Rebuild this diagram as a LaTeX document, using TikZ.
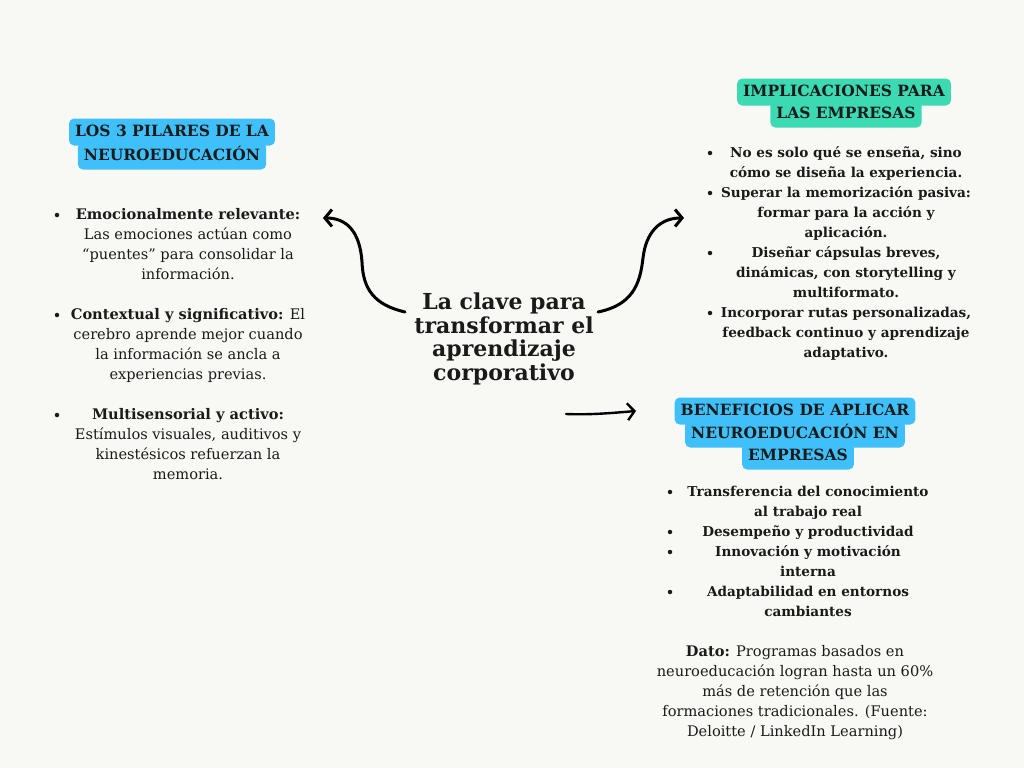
\documentclass[tikz,border=0pt]{standalone}
\usepackage{fontspec}
\setmainfont{DejaVu Serif}
\usetikzlibrary{arrows.meta}
\definecolor{paper}{HTML}{F8F8F4}
\definecolor{skyblue}{HTML}{40C0FA}
\definecolor{mint}{HTML}{3BDAB3}
\definecolor{ink}{HTML}{1A1A1A}
\tikzset{
  header/.style = {fill = #1, rounded corners = 5pt, inner xsep = 6pt,
    inner ysep = 6pt, text height = 11.5pt, text depth = 3.5pt,
    font = \fontsize{15.5}{20}\selectfont\bfseries},
  item/.style = {align = center, anchor = north, inner sep = 0pt,
    font = \fontsize{14.6}{20}\selectfont},
  bolditem/.style = {item, font = \fontsize{13.6}{20}\selectfont\bfseries},
  dot/.style = {circle, fill = ink, inner sep = 0pt, minimum size = 4.5pt},
  curly/.style = {line width = 3pt, line cap = round,
    -{Straight Barb[length = 7pt, width = 17pt]}}
}
\begin{document}
\begin{tikzpicture}[x = 1pt, y = -1pt, text = ink]
  \fill [paper] (0,0) rectangle (1024,768);

  % centre
  \node [align = center, inner sep = 0pt,
    font = \fontsize{22}{23.5}\selectfont\bfseries] (clave) at (504,339)
    {La clave para\\transformar el\\aprendizaje\\corporativo};

  % headers
  \node [header = skyblue] (pil1) at (172,132) {LOS 3 PILARES DE LA};
  \node [header = skyblue] (pil2) at (172,156) {NEUROEDUCACIÓN};
  \node [header = mint] (imp1) at (844,92) {IMPLICACIONES PARA};
  \node [header = mint] (imp2) at (846,114) {LAS EMPRESAS};
  \node [header = skyblue] (ben1) at (795,411) {BENEFICIOS DE APLICAR};
  \node [header = skyblue] (ben2) at (795,434) {NEUROEDUCACIÓN EN};
  \node [header = skyblue] (ben3) at (798,456) {EMPRESAS};

  % left list
  \foreach \y/\txt [count = \n] in {
      205/{\textbf{Emocionalmente relevante:}\\Las emociones actúan como\\“puentes” para consolidar la\\información.},
      305/{\textbf{Contextual y significativo:} El\\cerebro aprende mejor cuando\\la información se ancla a\\experiencias previas.},
      405/{\textbf{Multisensorial y activo:}\\Estímulos visuales, auditivos y\\kinestésicos refuerzan la\\memoria.}} {
    \node [dot] (pdot\n) at (57,\y+10) {};
    \node [item] (pil\n) at (188,\y) {\strut\txt};
  }

  % right top list
  \foreach \y/\txt [count = \n] in {
      143/{No es solo qué se enseña, sino\\cómo se diseña la experiencia.},
      183/{Superar la memorización pasiva:\\formar para la acción y\\aplicación.},
      243/{Diseñar cápsulas breves,\\dinámicas, con storytelling y\\multiformato.},
      303/{Incorporar rutas personalizadas,\\feedback continuo y aprendizaje\\adaptativo.}} {
    \node [dot] (idot\n) at (710,\y+10) {};
    \node [bolditem] (imp\n) at (846,\y) {\strut\txt};
  }

  % right bottom list
  \foreach \y/\txt [count = \n] in {
      482/{Transferencia del conocimiento\\al trabajo real},
      522/{Desempeño y productividad},
      542/{Innovación y motivación\\interna},
      582/{Adaptabilidad en entornos\\cambiantes}} {
    \node [dot] (bdot\n) at (670,\y+10) {};
    \node [bolditem] (ben\n) at (808,\y) {\strut\txt};
  }

  \node [item] (dato) at (795,642)
    {\strut\textbf{Dato:} Programas basados en\\neuroeducación logran hasta un 60\%\\más de retención que las\\formaciones tradicionales. (Fuente:\\Deloitte / LinkedIn Learning)};

  % arrows
  \coordinate (lstart) at (405,312);
  \coordinate (lend) at (323,218);
  \coordinate (rstart) at (598,312);
  \coordinate (rend) at (684,218);
  \coordinate (dstart) at (566,414);
  \coordinate (dend) at (636,411);
  \draw [curly] (lstart) .. controls (375,305) and (363,290) .. (362,262)
    .. controls (360,232) and (347,218) .. (lend);
  \draw [curly] (rstart) .. controls (632,305) and (640,285) .. (643,258)
    .. controls (646,232) and (660,218) .. (rend);
  \draw [curly, line width = 2.4pt] (dstart) .. controls (590,415) and (612,413) .. (dend);
\end{tikzpicture}
\end{document}
